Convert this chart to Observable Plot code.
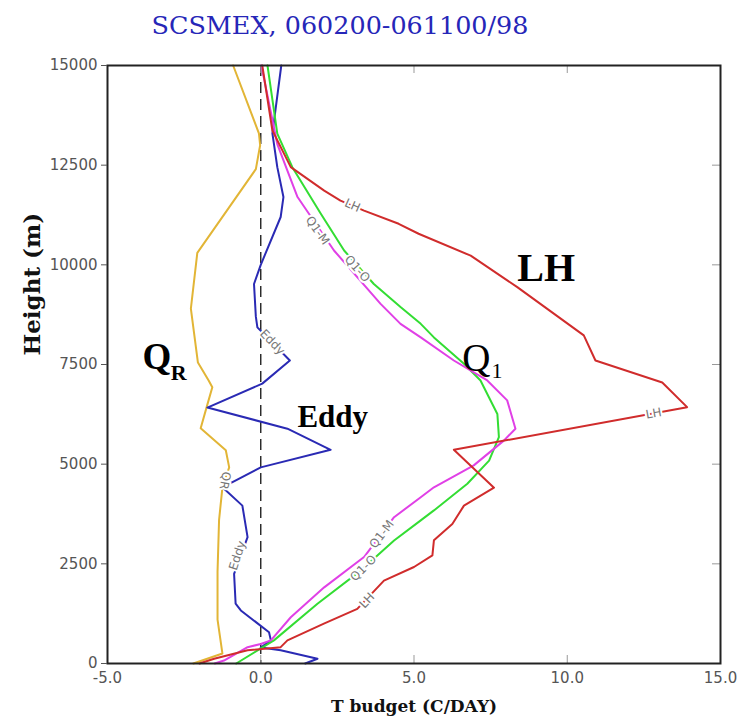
<!DOCTYPE html>
<html><head><meta charset="utf-8">
<script src="https://cdn.jsdelivr.net/npm/d3@7"></script>
<script src="https://cdn.jsdelivr.net/npm/@observablehq/plot@0.6"></script>
<style>
body{margin:0;background:#fff;width:750px;height:726px;overflow:hidden}
#title{height:48px;width:750px;position:relative}
#title span{position:absolute;left:340px;top:14px;transform:translateX(-50%) scaleX(1.06);font-family:"DejaVu Serif";font-size:24px;line-height:24px;color:#2626b8;white-space:nowrap}
#chart svg{display:block}
</style></head><body>
<div id="title"><span>SCSMEX, 060200-061100/98</span></div>
<div id="chart"></div>
<script>
// ---- data (heights in m, values in C/DAY) ----
const hQR = [15000,13300,13000,12400,10300,8900,7550,7100,6930,6500,5900,5350,4920,4420,3600,2300,1100,250,0];
const vQR = [-0.9,-0.06,-0.02,-0.16,-2.07,-2.28,-2.05,-1.7,-1.58,-1.74,-1.96,-1.14,-1.03,-1.25,-1.36,-1.41,-1.41,-1.25,-2.2];

const hEddy = [15000,13300,12450,11700,11200,10000,9520,8700,8430,7600,7020,6420,5890,5360,4920,4420,3960,3170,2250,1500,1330,785,580,400,330,120,0];
const vEddy = [0.67,0.38,0.54,0.74,0.65,0.0,-0.22,-0.16,-0.11,0.95,0.05,-1.74,0.87,2.28,0.0,-1.25,-0.6,-0.43,-0.87,-0.82,-0.65,0.27,0.33,0.0,0.65,1.85,1.45];

const hLH = [15000,13370,12450,11860,11610,11360,11030,10780,10230,9440,8230,7600,7050,6430,5360,4410,3960,3500,3090,2710,2420,2080,1370,1000,580,410,330,120,0];
const vLH = [0.05,0.38,0.98,2.07,2.6,3.37,4.5,5.15,6.85,8.37,10.54,10.92,13.1,13.91,6.3,7.61,6.63,6.25,5.65,5.6,5.0,4.02,3.15,2.06,0.87,0.65,-0.43,-1.52,-2.0];

const hQ1M = [15000,13030,12300,11700,10360,9020,8520,8180,7600,7100,6600,5890,5590,4970,4420,4170,3670,2670,1910,1160,580,490,410,75,0];
const vQ1M = [0.02,0.54,0.9,1.2,2.39,3.91,4.56,5.22,6.3,7.39,8.04,8.31,7.93,6.95,5.65,5.22,4.35,3.37,2.07,0.98,0.33,0.0,-0.43,-1.2,-1.5];

const hQ1O = [15000,13290,12450,11280,10360,9520,8940,8520,8180,7520,7100,6930,6260,5680,5090,4510,3840,3590,3085,2330,1500,580,0];
const vQ1O = [0.22,0.54,1.03,1.96,2.72,3.69,4.56,5.22,5.65,6.63,7.17,7.28,7.72,7.77,7.45,6.74,5.65,5.22,4.35,3.26,1.85,0.43,-0.8];

const xTicks = [-5, 0, 5, 10, 15];
const yTicks = [0, 2500, 5000, 7500, 10000, 12500, 15000];
const xInnerTicks = [0, 5, 10];
const yInnerTicks = [2500, 5000, 7500, 10000, 12500];

// contour-style labels along the curves
const lblText  = ["LH","Q1-M","Q1-O","Eddy","LH","QR","Eddy","Q1-M","Q1-O","LH"];
const lblX     = [2.99,1.85,3.15,0.38,12.82,-1.17,-0.76,3.95,3.35,3.47];
const lblY     = [11487,10860,9899,8058,6270,4590,2709,3240,2390,1580];
const lblAngle = [24,55,48,46,-10,100,-72,-53,-45,-47];

// big annotations
const annBoldText = ["LH","Eddy","Q","R"];
const annBoldX = [8.37, 1.195, -3.86, -2.94];
const annBoldY = [9606, 5926, 7399, 7123];
const annBoldSize = [40, 31, 37, 22];
const annText = ["Q","1"];
const annX = [6.575, 7.53];
const annY = [7348, 7173];
const annSize = [39, 22];

const xTitle = "T budget (C/DAY)";
const yTitle = "Height (m)";

// ---- build ----
const rows = (h, v) => h.map((y, i) => ({y, x: v[i]}));
const series = [
  {rows: rows(hQR, vQR), color: "#e2b536"},
  {rows: rows(hEddy, vEddy), color: "#2a2ab4"},
  {rows: rows(hQ1O, vQ1O), color: "#33dd33"},
  {rows: rows(hQ1M, vQ1M), color: "#e040e6"},
  {rows: rows(hLH, vLH), color: "#d02c2c"}
];
const labels = lblText.map((t, i) => ({t, x: lblX[i], y: lblY[i], r: lblAngle[i]}));
const annBold = annBoldText.map((t, i) => ({t, x: annBoldX[i], y: annBoldY[i], s: annBoldSize[i]}));
const annReg = annText.map((t, i) => ({t, x: annX[i], y: annY[i], s: annSize[i]}));

const W = 750, H = 678, mL = 107, mR = 30, mT = 17, mB = 63;
const frameW = W - mL - mR, frameH = H - mT - mB, tk = 8;

const svg = Plot.plot({
  width: W, height: H, marginLeft: mL, marginRight: mR, marginTop: mT, marginBottom: mB,
  x: {domain: [-5, 15]},
  y: {domain: [0, 15000]},
  style: {fontFamily: "DejaVu Sans", background: "white"},
  marks: [
    Plot.ruleX([0], {x: d => d, stroke: "#222", strokeWidth: 1.4, strokeDasharray: "11,6"}),
    ...series.map(s => Plot.line(s.rows, {x: "x", y: "y", stroke: s.color, strokeWidth: 2, strokeLinejoin: "round"})),
    Plot.text(labels, {x: "x", y: "y", text: "t", rotate: "r", fill: "#777", stroke: "white", strokeWidth: 4, paintOrder: "stroke", fontSize: 12, ariaLabel: "line-label"}),
    Plot.text(annBold, {x: "x", y: "y", text: "t", fontSize: "s", fontWeight: "bold", fontFamily: "Liberation Serif", textAnchor: "start", lineAnchor: "bottom", fill: "black"}),
    Plot.text(annReg, {x: "x", y: "y", text: "t", fontSize: "s", fontFamily: "Liberation Serif", textAnchor: "start", lineAnchor: "bottom", fill: "black"}),
    Plot.ruleX(xInnerTicks, {x: d => d, insetTop: frameH - tk, stroke: "#999"}),
    Plot.ruleX(xInnerTicks, {x: d => d, insetBottom: frameH - tk, stroke: "#999"}),
    Plot.ruleY(yInnerTicks, {y: d => d, insetLeft: frameW - tk, stroke: "#999"}),
    Plot.frame({stroke: "#222", strokeWidth: 2}),
    Plot.axisX({ticks: xTicks, tickSize: 0, tickPadding: 9, tickFormat: d => d.toFixed(1), fontSize: 15, label: null, color: "#555"}),
    Plot.axisY({ticks: yTicks, tickSize: 6, tickPadding: 4, tickFormat: d => String(d), fontSize: 15, label: null, color: "#555"}),
    Plot.text([xTitle], {text: d => d, frameAnchor: "bottom", dy: 48, lineAnchor: "bottom", fontSize: 17, fontWeight: "bold", fontFamily: "DejaVu Serif", fill: "#111"}),
    Plot.text([yTitle], {text: d => d, frameAnchor: "left", rotate: -90, dx: -68, dy: -9, lineAnchor: "bottom", fontSize: 23, fontWeight: "bold", fontFamily: "DejaVu Serif", fill: "#111"})
  ]
});
d3.select(svg).selectAll('g[aria-label="line-label"] text').style("letter-spacing", "1.5px");
document.getElementById("chart").appendChild(svg);
</script>
</body></html>
